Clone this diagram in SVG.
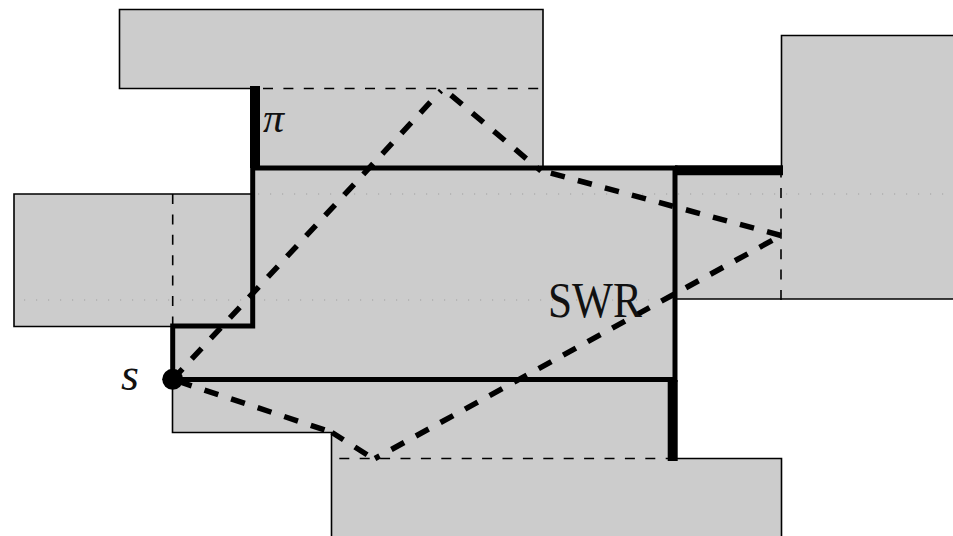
<svg xmlns="http://www.w3.org/2000/svg" width="953" height="536" viewBox="0 0 953 536">
<style>
.fill{fill:#ccc;stroke:none}
.edge{fill:none;stroke:#000;stroke-width:1.6}
.thin{fill:none;stroke:#000;stroke-width:1.6;stroke-dasharray:10 10.4}
.dots{fill:none;stroke:#a0a0a0;stroke-width:1.2;stroke-dasharray:1.2 10.8}
.wall{fill:none;stroke:#000;stroke-width:5;stroke-linecap:square}
.fat{fill:none;stroke:#000;stroke-width:10}
.ray{fill:none;stroke:#000;stroke-width:5.500;stroke-dasharray:14.500 13.500}
text{font-family:"Liberation Serif","Times New Roman",serif;fill:#111}
</style>
<g id="regions">
<path class="fill" d="M119.500 9.500H543V168H675V172H781.500V35.500H953V299H675V380H672V458.500H781.500V536H331.500V432.500H172.500V326.500H14V194H252V88.500H119.500Z"/>
<path class="edge" d="M252 88.500H119.500V9.500H543V168"/>
<path class="edge" d="M781.500 172V35.500H953M953 299H675"/>
<path class="edge" d="M252 194H14V326.500H173"/>
<path class="edge" d="M172.500 380V432.500H331.500V536"/>
<path class="edge" d="M672 458.500H781.500V536"/>
</g>
<g id="dotted">
<path class="dots" d="M24 300H650"/>
<path class="dots" d="M258 194H953"/>
</g>
<g id="windows">
<path class="thin" d="M263 88.500H543"/>
<path class="thin" d="M172.700 194V326"/>
<path class="thin" d="M781 300V175"/>
<path class="thin" d="M339.300 458.500H670"/>
</g>
<g id="walls">
<path class="wall" d="M172.700 379.500V326H252.700V168H675V379.500H172.700"/>
<path class="fat" d="M255 86V168"/>
<path class="fat" d="M675 170.300H783"/>
<path class="fat" d="M672.700 380V461"/>
</g>
<g id="rays">
<path class="ray" d="M172.700 379.500L441 90.700"/>
<path class="ray" stroke-dashoffset="-7.800" d="M445 90L541 171"/>
<path class="ray" d="M781 235.500L541 170.500"/>
<path class="ray" stroke-dashoffset="-10" d="M781 235.500L375 458.500"/>
<path class="ray" stroke-dashoffset="-5.500" d="M172.700 379.500L331 432"/>
<path class="ray" stroke-dashoffset="-7" d="M373 458.500L332 432.500"/>
</g>
<g id="source"><circle cx="172.700" cy="379.300" r="10.500" fill="#000"/><text x="121" y="390" font-size="46" font-style="italic">s</text></g>
<g id="labels">
<text x="263" y="132" font-size="42" font-style="italic">π</text>
<text x="548" y="317" font-size="50" textLength="94" lengthAdjust="spacingAndGlyphs">SWR</text>
</g>
</svg>
